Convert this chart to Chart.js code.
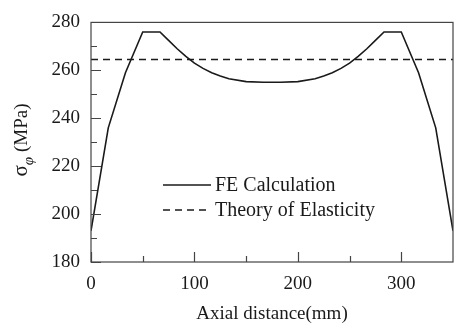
<!DOCTYPE html>
<html>
<head>
<meta charset="utf-8">
<script src="https://cdn.jsdelivr.net/npm/chart.js@4.4.0/dist/chart.umd.min.js"></script>
<style>
  html, body { margin: 0; padding: 0; background: #fff; }
  #wrap { width: 457px; height: 329px; }
</style>
</head>
<body>
<div id="wrap"><canvas id="chart" width="457" height="329"></canvas></div>
<script>
// axial positions (mm) and hoop stress from the FE model (MPa)
var distance = [0, 16.7, 33.3, 50, 66.7, 75, 83.3, 91.7, 100, 108.3, 116.7, 125, 133.3, 150, 166.7, 183.3, 200, 216.7, 225, 233.3, 241.7, 250, 258.3, 266.7, 275, 283.3, 300, 316.7, 333.3, 350];
var feStress = [193, 236, 259, 276, 276, 272.5, 269, 265.8, 263, 260.8, 259, 257.6, 256.5, 255.3, 255, 255, 255.3, 256.5, 257.6, 259, 260.8, 263, 265.8, 269, 272.5, 276, 276, 259, 236, 193];
var theoryX = [0, 350];
var theoryStress = [264.5, 264.5];
var xTicks = [0, 100, 200, 300];
var xMinor = [50, 150, 250];
var yTicks = [180, 200, 220, 240, 260, 280];
var yMinor = [190, 210, 230, 250, 270];

var serif = "'Liberation Serif', 'Times New Roman', serif";
var ink = "#1a1a1a";

function pts(xs, ys) {
  return xs.map(function(x, i) { return { x: x, y: ys[i] }; });
}

// ticks point into the plot, plus box frame
var frameTicks = {
  id: "frameTicks",
  afterDatasetsDraw: function(chart) {
    var c = chart.ctx, a = chart.chartArea;
    var xs = chart.scales.x, ys = chart.scales.y;
    c.save();
    c.strokeStyle = "#444";
    c.lineWidth = 1.2;
    c.strokeRect(a.left, a.top, a.right - a.left, a.bottom - a.top);
    c.beginPath();
    xTicks.forEach(function(v) { var p = Math.round(xs.getPixelForValue(v)) + 0.5; c.moveTo(p, a.bottom); c.lineTo(p, a.bottom - 10); });
    xMinor.forEach(function(v) { var p = Math.round(xs.getPixelForValue(v)) + 0.5; c.moveTo(p, a.bottom); c.lineTo(p, a.bottom - 6); });
    yTicks.forEach(function(v) { var p = Math.round(ys.getPixelForValue(v)) + 0.5; c.moveTo(a.left, p); c.lineTo(a.left + 10, p); });
    yMinor.forEach(function(v) { var p = Math.round(ys.getPixelForValue(v)) + 0.5; c.moveTo(a.left, p); c.lineTo(a.left + 6, p); });
    c.stroke();

    // legend inside the plot
    c.font = "20px " + serif;
    c.fillStyle = ink;
    c.textBaseline = "middle";
    chart.data.datasets.forEach(function(ds, i) {
      var y = 185 + i * 25;
      c.beginPath();
      c.strokeStyle = ds.borderColor;
      c.lineWidth = ds.borderWidth;
      c.setLineDash(ds.borderDash || []);
      c.moveTo(163, y);
      c.lineTo(211, y);
      c.stroke();
      c.setLineDash([]);
      c.fillText(ds.label, 215, y + 1);
    });

    // y title with subscript phi
    c.save();
    c.translate(27, 140);
    c.rotate(-Math.PI / 2);
    c.textBaseline = "alphabetic";
    c.font = "21px " + serif;
    var w1 = c.measureText("σ").width;
    c.font = "italic 15px " + serif;
    var w2 = c.measureText("φ").width;
    c.font = "19px " + serif;
    var w3 = c.measureText(" (MPa)").width;
    var x0 = -(w1 + w2 + w3) / 2;
    c.font = "21px " + serif;
    c.fillText("σ", x0, 0);
    c.font = "italic 15px " + serif;
    c.fillText("φ", x0 + w1, 6);
    c.font = "19px " + serif;
    c.fillText(" (MPa)", x0 + w1 + w2, 0);
    c.restore();
    c.restore();
  }
};

new Chart(document.getElementById("chart"), {
  type: "line",
  data: {
    datasets: [
      {
        label: "FE Calculation",
        data: pts(distance, feStress),
        borderColor: ink,
        borderWidth: 1.6,
        pointRadius: 0,
        tension: 0
      },
      {
        label: "Theory of Elasticity",
        data: pts(theoryX, theoryStress),
        borderColor: ink,
        borderWidth: 1.6,
        borderDash: [7, 5],
        pointRadius: 0,
        tension: 0
      }
    ]
  },
  options: {
    responsive: false,
    animation: false,
    layout: { padding: { top: 13, right: 4, left: 0, bottom: 0 } },
    plugins: { legend: { display: false }, tooltip: { enabled: false } },
    scales: {
      x: {
        type: "linear",
        min: 0,
        max: 350,
        afterBuildTicks: function(s) { s.ticks = xTicks.map(function(v) { return { value: v }; }); },
        afterFit: function(s) { s.height = 67; },
        grid: { display: false, drawTicks: false },
        border: { display: false },
        ticks: { color: ink, padding: 11, maxRotation: 0, font: { family: serif, size: 19 } },
        title: { display: true, text: "Axial distance(mm)", color: ink, padding: { top: 0 }, font: { family: serif, size: 19 } }
      },
      y: {
        min: 180,
        max: 280,
        afterBuildTicks: function(s) { s.ticks = yTicks.map(function(v) { return { value: v }; }); },
        afterFit: function(s) { s.width = 91; },
        grid: { display: false, drawTicks: false },
        border: { display: false },
        ticks: { color: ink, padding: 11, font: { family: serif, size: 19 } }
      }
    }
  },
  plugins: [frameTicks]
});
</script>
</body>
</html>
